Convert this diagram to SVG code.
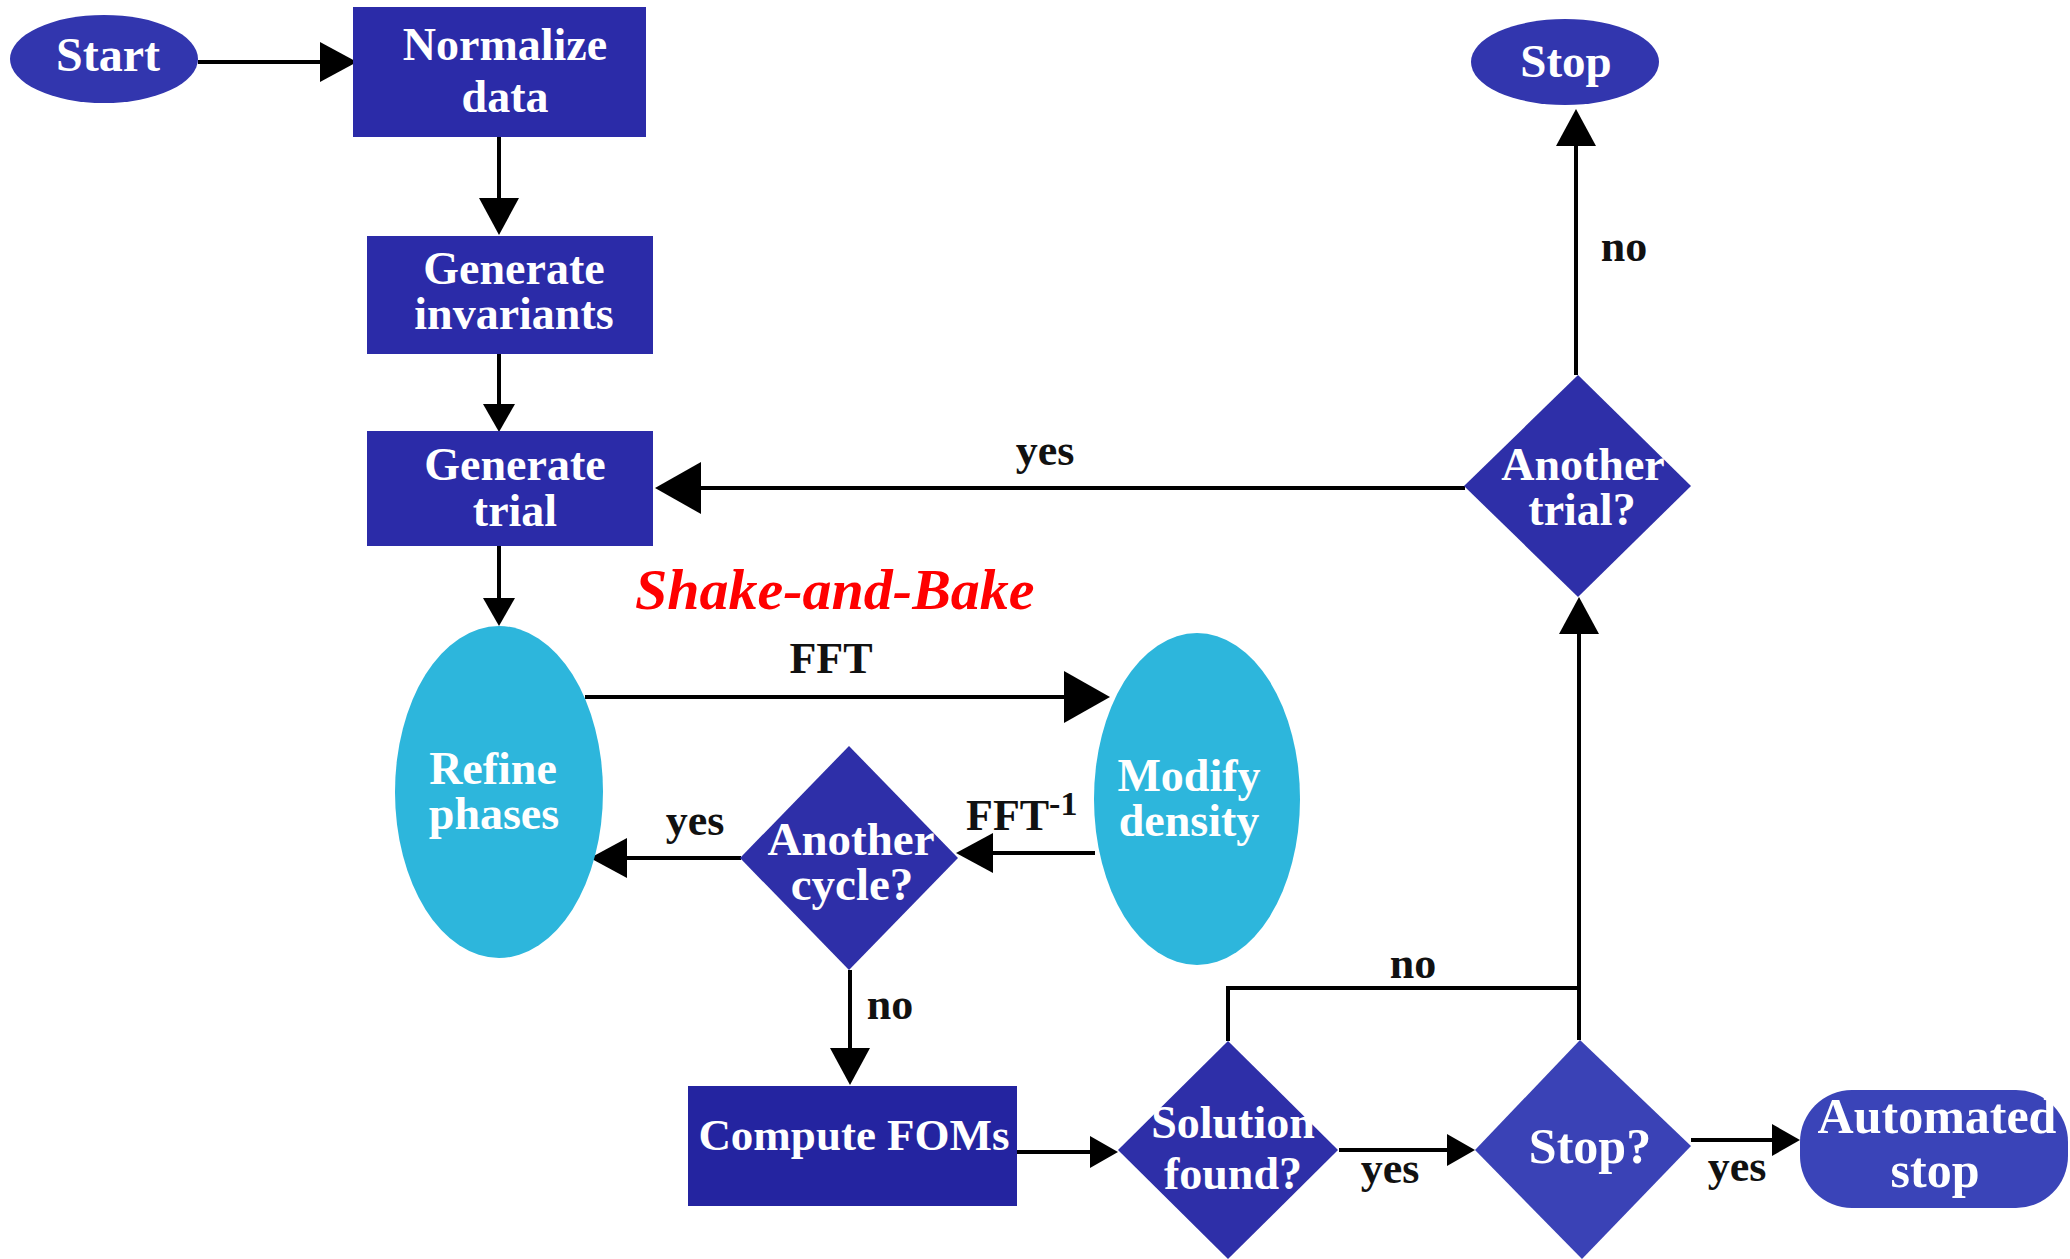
<svg xmlns="http://www.w3.org/2000/svg" width="2070" height="1259" viewBox="0 0 2070 1259">
<style>
.t{font-family:"Liberation Serif","Times New Roman",serif;font-weight:bold;fill:#fff;text-anchor:middle}
.l{font-family:"Liberation Serif","Times New Roman",serif;font-weight:bold;fill:#111;text-anchor:middle}
.ls{font-family:"Liberation Serif","Times New Roman",serif;font-weight:bold;fill:#111;text-anchor:start}
.c{fill:none;stroke:#000;stroke-width:4}
.box{fill:#2B2BA8}
.dia{fill:#2E2FA8}
.term{fill:#3236AE}
.cyan{fill:#2DB6DC}
</style>
<defs>
<marker id="aL" markerUnits="userSpaceOnUse" viewBox="0 0 46 52" markerWidth="46" markerHeight="52" refX="40" refY="26" orient="auto"><path d="M0,0 L46,26 L0,52 Z" fill="#000"/></marker>
<marker id="aM" markerUnits="userSpaceOnUse" viewBox="0 0 37 40" markerWidth="37" markerHeight="40" refX="31" refY="20" orient="auto"><path d="M0,0 L37,20 L0,40 Z" fill="#000"/></marker>
<marker id="aS" markerUnits="userSpaceOnUse" viewBox="0 0 28 32" markerWidth="28" markerHeight="32" refX="22" refY="16" orient="auto"><path d="M0,0 L28,16 L0,32 Z" fill="#000"/></marker>
</defs>
<rect width="2070" height="1259" fill="#fff"/>

<g id="connectors">
<path class="c" d="M198,62 H351" marker-end="url(#aM)"/>
<path class="c" d="M499,137 V229" marker-end="url(#aM)"/>
<path class="c" d="M499,354 V426" marker-end="url(#aS)"/>
<path class="c" d="M499,546 V620" marker-end="url(#aS)"/>
<path class="c" d="M585,697 H1104" marker-end="url(#aL)"/>
<path class="c" d="M1095,853 H962" marker-end="url(#aM)"/>
<path class="c" d="M741,858 H596" marker-end="url(#aM)"/>
<path class="c" d="M850,970 V1079" marker-end="url(#aM)"/>
<path class="c" d="M1017,1152 H1112" marker-end="url(#aS)"/>
<path class="c" d="M1228,1041 V988 H1579"/>
<path class="c" d="M1339,1150 H1469" marker-end="url(#aS)"/>
<path class="c" d="M1691,1140 H1794" marker-end="url(#aS)"/>
<path class="c" d="M1579,1040 V603" marker-end="url(#aM)"/>
<path class="c" d="M1465,488 H661" marker-end="url(#aL)"/>
<path class="c" d="M1576,375 V115" marker-end="url(#aM)"/>
</g>

<g id="start"><ellipse class="term" cx="104" cy="59" rx="94" ry="44"/><text class="t" x="108" y="71" font-size="48">Start</text></g>
<g id="normalize"><rect class="box" x="353" y="7" width="293" height="130"/><text class="t" x="505" y="60" font-size="46">Normalize</text><text class="t" x="505" y="112" font-size="46">data</text></g>
<g id="invariants"><rect class="box" x="367" y="236" width="286" height="118"/><text class="t" x="514" y="284" font-size="46">Generate</text><text class="t" x="514" y="329" font-size="46">invariants</text></g>
<g id="trial"><rect class="box" x="367" y="431" width="286" height="115"/><text class="t" x="515" y="480" font-size="46">Generate</text><text class="t" x="515" y="526" font-size="46">trial</text></g>
<g id="refine"><ellipse class="cyan" cx="499" cy="792" rx="104" ry="166"/><text class="t" x="493" y="784" font-size="46">Refine</text><text class="t" x="494" y="829" font-size="46">phases</text></g>
<g id="modify"><ellipse class="cyan" cx="1197" cy="799" rx="103" ry="166"/><text class="t" x="1189" y="791" font-size="46">Modify</text><text class="t" x="1189" y="836" font-size="46">density</text></g>
<g id="cycle"><polygon class="dia" points="849,746 958,858 849,970 740,858"/><text class="t" x="851" y="855" font-size="47">Another</text><text class="t" x="852" y="900" font-size="47">cycle?</text></g>
<g id="compute"><rect x="688" y="1086" width="329" height="120" fill="#2424A0"/><text class="t" x="854" y="1150" font-size="45">Compute FOMs</text></g>
<g id="solution"><polygon class="dia" points="1228,1041 1338,1150 1228,1259 1118,1150"/><text class="t" x="1233" y="1138" font-size="46">Solution</text><text class="t" x="1233" y="1189" font-size="46">found?</text></g>
<g id="stopq"><polygon points="1580,1040 1691,1146 1582,1259 1475,1150" fill="#3A42B6"/><text class="t" x="1590" y="1163" font-size="50">Stop?</text></g>
<g id="automated"><rect x="1800" y="1090" width="268" height="118" rx="52" ry="52" fill="#3A44B8"/><text class="t" x="1937" y="1133" font-size="50">Automated</text><text class="t" x="1935" y="1187" font-size="50">stop</text></g>
<g id="anothertrial"><polygon class="dia" points="1578,375 1691,486 1578,597 1464,486"/><text class="t" x="1583" y="480" font-size="46">Another</text><text class="t" x="1582" y="525" font-size="46">trial?</text></g>
<g id="stop"><ellipse class="term" cx="1565" cy="62" rx="94" ry="43"/><text class="t" x="1566" y="77" font-size="47">Stop</text></g>

<g id="labels">
<text x="635" y="609" font-family="Liberation Serif, Times New Roman, serif" font-weight="bold" font-style="italic" font-size="58" fill="#FF0000">Shake-and-Bake</text>
<text class="l" x="831" y="673" font-size="44">FFT</text>
<text class="ls" x="966" y="830" font-size="44">FFT<tspan font-size="34" dy="-15">-1</tspan></text>
<text class="l" x="695" y="835" font-size="44">yes</text>
<text class="l" x="1045" y="465" font-size="44">yes</text>
<text class="l" x="1624" y="261" font-size="44">no</text>
<text class="l" x="890" y="1019" font-size="44">no</text>
<text class="l" x="1413" y="978" font-size="44">no</text>
<text class="l" x="1390" y="1183" font-size="44">yes</text>
<text class="l" x="1737" y="1181" font-size="44">yes</text>
</g>
</svg>
